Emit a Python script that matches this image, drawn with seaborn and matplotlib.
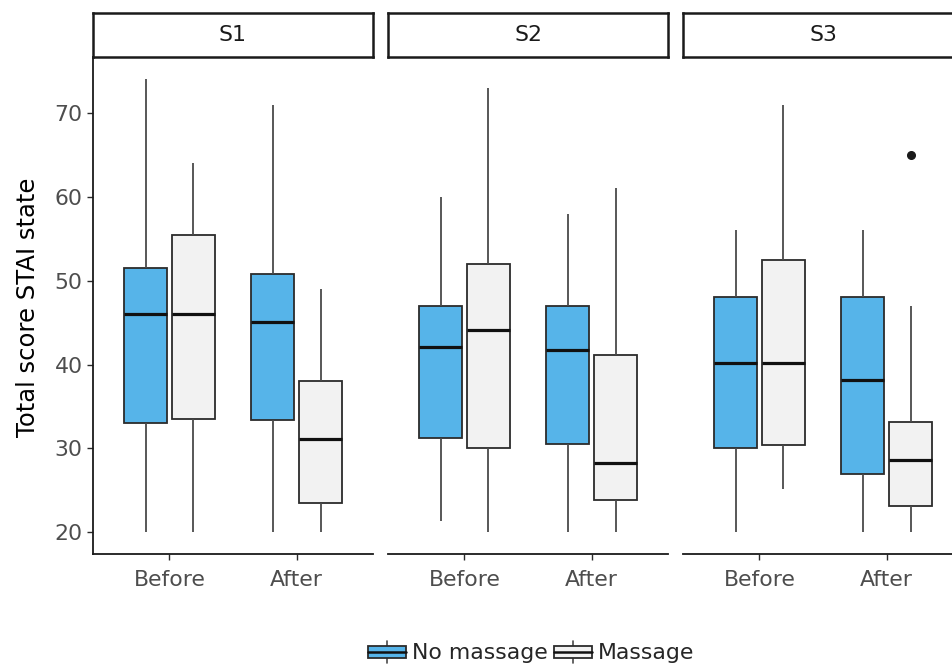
import matplotlib
matplotlib.use("Agg")
import matplotlib.pyplot as plt
import numpy as np
import pandas as pd
import seaborn as sns
from matplotlib.legend_handler import HandlerBase
from matplotlib.patches import Rectangle, Patch
from matplotlib.lines import Line2D

# ---------------- data ----------------
sessions = ["S1", "S2", "S3"]
times = ["Before", "After"]
groups = ["No massage", "Massage"]

box_session = ["S1"] * 4 + ["S2"] * 4 + ["S3"] * 4
box_time = ["Before", "Before", "After", "After"] * 3
box_group = ["No massage", "Massage"] * 6
whisker_low = [20, 20, 20, 20, 21.3, 20, 20, 20, 20, 25.2, 20, 20]
q1 = [33, 33.5, 33.4, 23.5, 31.2, 30, 30.5, 23.8, 30, 30.4, 27, 23.1]
median = [46, 46, 45.1, 31.1, 42.1, 44.1, 41.7, 28.3, 40.2, 40.2, 38.2, 28.6]
q3 = [51.5, 55.4, 50.8, 38, 47, 52, 47, 41.1, 48.1, 52.5, 48, 33.1]
whisker_high = [74, 64, 71, 49, 60, 73, 58, 61, 56, 71, 56, 47]
outliers = [[], [], [], [], [], [], [], [], [], [], [], [65]]

y_ticks = [20, 30, 40, 50, 60, 70]

# Build observations whose five-number summary equals the values read above
rows = []
for i in range(len(box_session)):
    if outliers[i]:
        vals = [whisker_low[i], q1[i], q1[i], median[i], median[i],
                q3[i], q3[i], whisker_high[i]] + outliers[i]
    else:
        vals = [whisker_low[i], q1[i], median[i], q3[i], whisker_high[i]]
    for v in vals:
        rows.append({"session": box_session[i], "time": box_time[i],
                     "group": box_group[i], "score": v})
df = pd.DataFrame(rows)

# ---------------- style ----------------
sns.set_style("white")
plt.rcParams["font.family"] = ["DejaVu Sans"]

blue = "#56B4E9"
grey = "#F2F2F2"
edge = "#2b2b2b"
palette = {"No massage": blue, "Massage": grey}

W, H = 952, 667
fig = plt.figure(figsize=(W / 100, H / 100), dpi=100)

panel_left = [93, 388, 683]
panel_w = 280
panel_top = 56.7
panel_bottom = 554.3
strip_top = 13.3

for k, s in enumerate(sessions):
    ax = fig.add_axes([panel_left[k] / W, 1 - panel_bottom / H,
                       panel_w / W, (panel_bottom - panel_top) / H])
    sub = df[df["session"] == s]
    sns.boxplot(data=sub, x="time", y="score", hue="group",
                order=times, hue_order=groups, palette=palette,
                saturation=1, width=0.75, gap=0.1, linecolor=edge,
                linewidth=1.3, showcaps=False, legend=False, ax=ax,
                whiskerprops=dict(color="#4a4a4a", linewidth=1.3),
                medianprops=dict(color="#111111", linewidth=2.3),
                flierprops=dict(marker="o", markerfacecolor="#1a1a1a",
                                markeredgecolor="#1a1a1a", markersize=5.5))
    ax.set_xlim(-0.6, 1.6)
    ax.set_ylim(17.37, 76.7)
    ax.set_xlabel("")
    ax.set_ylabel("")
    ax.set_facecolor("white")
    for sp in ["top", "right"]:
        ax.spines[sp].set_visible(False)
    ax.spines["bottom"].set_color("#1a1a1a")
    ax.spines["bottom"].set_linewidth(1.3)
    ax.tick_params(axis="x", length=4.5, width=1, color=edge, pad=7,
                   labelsize=15.8, labelcolor="#4D4D4D", bottom=True)
    if k == 0:
        ax.set_yticks(y_ticks)
        ax.spines["left"].set_color("#1a1a1a")
        ax.spines["left"].set_linewidth(1.3)
        ax.tick_params(axis="y", length=4.5, width=1, color=edge, pad=3,
                       labelsize=15.8, labelcolor="#4D4D4D", left=True)
    else:
        ax.spines["left"].set_visible(False)
        ax.set_yticks([])

    # facet strip
    sax = fig.add_axes([panel_left[k] / W, 1 - panel_top / H,
                        panel_w / W, (panel_top - strip_top) / H])
    sax.set_xticks([])
    sax.set_yticks([])
    sax.set_facecolor("white")
    for sp in sax.spines.values():
        sp.set_color("#1a1a1a")
        sp.set_linewidth(1.8)
        sp.set_visible(True)
    sax.text(0.5, 0.5, s, ha="center", va="center", fontsize=15.8,
             color="#1a1a1a", transform=sax.transAxes)

fig.text(28 / W, 1 - 307 / H, "Total score STAI state", rotation=90,
         ha="center", va="center", fontsize=17.5, color="black")


class BoxKeyHandler(HandlerBase):
    def create_artists(self, legend, orig_handle, xdescent, ydescent,
                       width, height, fontsize, trans):
        fc = orig_handle.get_facecolor()
        x0, y0 = -xdescent, -ydescent
        rect = Rectangle((x0, y0 + 0.22 * height), width, 0.56 * height,
                         facecolor=fc, edgecolor=edge, lw=1.3, transform=trans)
        med = Line2D([x0, x0 + width], [y0 + 0.5 * height] * 2,
                     color="#111111", lw=1.8, transform=trans)
        wl = Line2D([x0 + width / 2] * 2, [y0, y0 + 0.22 * height],
                    color="#4a4a4a", lw=1.2, transform=trans)
        wh = Line2D([x0 + width / 2] * 2, [y0 + 0.78 * height, y0 + height],
                    color="#4a4a4a", lw=1.2, transform=trans)
        return [wl, wh, rect, med]


handles = [Patch(facecolor=palette[g]) for g in groups]
fig.legend(handles=handles, labels=groups,
           handler_map={Patch: BoxKeyHandler()},
           loc="center", bbox_to_anchor=(531 / W, 1 - 652 / H), ncol=2,
           frameon=False, fontsize=15.8, handlelength=1.73, handleheight=1.15,
           handletextpad=0.25, columnspacing=0.3, borderpad=0)

fig.savefig("out.png", dpi=100)
